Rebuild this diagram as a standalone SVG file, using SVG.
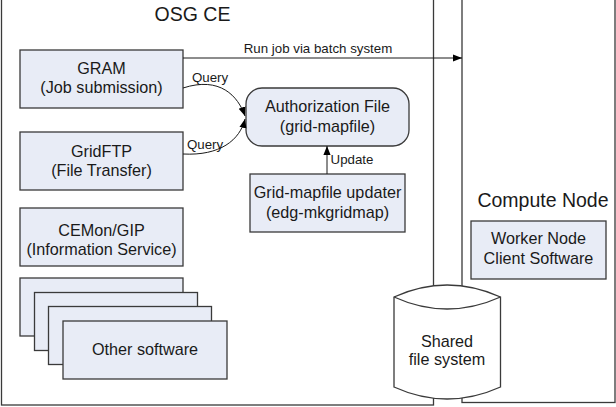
<svg xmlns="http://www.w3.org/2000/svg" width="616" height="407" viewBox="0 0 616 407">
<style>
  .cont{fill:#ffffff;stroke:#3a3a3a;stroke-width:1.3}
  .box{fill:#e8ecf6;stroke:#3a3a3a;stroke-width:1.3}
  text{font-family:"Liberation Sans",Arial,sans-serif;fill:#1a1a1a;text-anchor:middle}
  .t{font-size:16.2px}
  .big{font-size:19.5px}
  .lbl{font-size:13.3px}
  .conn{fill:none;stroke:#1a1a1a;stroke-width:1}
</style>
<defs>
  <marker id="ah" viewBox="0 0 10 10" refX="10" refY="5" markerWidth="9" markerHeight="9" markerUnits="userSpaceOnUse" orient="auto">
    <path d="M0,1 L10,5 L0,9 Z" fill="#000"/>
  </marker>
</defs>
<g id="osg-ce">
  <rect class="cont" x="1.5" y="-1" width="432" height="406"/>
  <text class="big" x="192.5" y="21">OSG CE</text>
</g>
<g id="compute-node">
  <rect class="cont" x="462" y="-1" width="153" height="403.5"/>
  <text class="big" x="543" y="207" font-size="20px">Compute Node</text>
</g>
<g id="gram">
  <rect class="box" x="20" y="50" width="163" height="58"/>
  <text class="t" x="101.5" y="74">GRAM</text>
  <text class="t" x="101.5" y="93">(Job submission)</text>
</g>
<g id="gridftp">
  <rect class="box" x="20" y="132" width="163" height="58"/>
  <text class="t" x="101.5" y="157">GridFTP</text>
  <text class="t" x="101.5" y="176">(File Transfer)</text>
</g>
<g id="cemon">
  <rect class="box" x="20" y="208" width="163" height="58"/>
  <text class="t" x="101.5" y="236">CEMon/GIP</text>
  <text class="t" x="101.5" y="255">(Information Service)</text>
</g>
<g id="other-software">
  <rect class="box" x="20" y="278" width="163" height="58"/>
  <rect class="box" x="34.5" y="292.5" width="163" height="58"/>
  <rect class="box" x="48.5" y="306.5" width="163" height="58"/>
  <rect class="box" x="63" y="321" width="164" height="58"/>
  <text class="t" x="145" y="355">Other software</text>
</g>
<g id="auth-file">
  <rect class="box" x="246" y="88" width="163" height="58" rx="16" ry="16"/>
  <text class="t" x="327.5" y="112">Authorization File</text>
  <text class="t" x="327.5" y="132">(grid-mapfile)</text>
</g>
<g id="updater">
  <rect class="box" x="250" y="174" width="155" height="58"/>
  <text class="t" x="327.5" y="198">Grid-mapfile updater</text>
  <text class="t" x="327.5" y="218">(edg-mkgridmap)</text>
</g>
<g id="worker-node">
  <rect class="box" x="471" y="221" width="135" height="58"/>
  <text class="t" x="538.5" y="244">Worker Node</text>
  <text class="t" x="538.5" y="264">Client Software</text>
</g>
<g id="shared-fs">
  <path class="cont" d="M394,297 Q447,273 500.5,297 L500.5,387 Q447,411 394,387 Z"/>
  <path class="cont" fill="none" d="M394,297 Q447,321 500.5,297"/>
  <text class="t" x="447" y="347">Shared</text>
  <text class="t" x="447" y="365">file system</text>
</g>
<g id="connectors">
  <path class="conn" stroke="#444" d="M183,58 L462,58" marker-end="url(#ah)"/>
  <text class="lbl" x="318" y="53">Run job via batch system</text>
  <path class="conn" d="M183,88 C220,76 238,96 245,116" marker-end="url(#ah)"/>
  <text class="lbl" x="210" y="82">Query</text>
  <path class="conn" d="M183,154 C220,156 240,140 245,119" marker-end="url(#ah)"/>
  <text class="lbl" x="205" y="149">Query</text>
  <path class="conn" d="M327,174 L327,146" marker-end="url(#ah)"/>
  <text class="lbl" x="352" y="164">Update</text>
</g>
</svg>
